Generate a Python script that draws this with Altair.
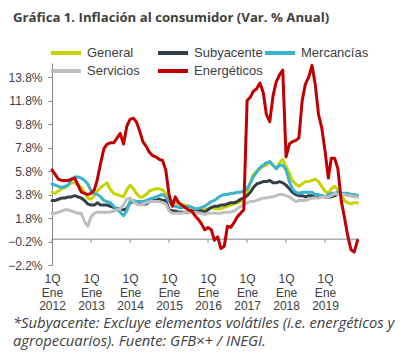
import altair as alt
import pandas as pd

title_text = "Gráfica 1. Inflación al consumidor (Var. % Anual)"
note_text = "*Subyacente: Excluye elementos volátiles (i.e. energéticos y\nagropecuarios). Fuente: GFB×+ /  INEGI."

series_names = ["General", "Subyacente", "Mercancías", "Servicios", "Energéticos"]
series_colors = ["#c5d300", "#333e48", "#3ab3cc", "#bfbfbf", "#c00000"]

year_labels = [2012, 2013, 2014, 2015, 2016, 2017, 2018, 2019]
y_ticks = [-2.2, -0.2, 1.8, 3.8, 5.8, 7.8, 9.8, 11.8, 13.8]

# monthly values, Jan 2012 .. Nov 2019
general = [
    4.0, 3.9, 4.1, 4.3, 4.4, 4.6, 4.8, 4.8, 4.6, 4.4,
    4.0, 3.5, 3.4, 3.7, 4.1, 4.4, 4.6, 4.8, 4.2, 3.9,
    3.8, 3.7, 3.6, 4.2, 4.6, 4.3, 3.9, 3.6, 3.6, 3.8,
    4.1, 4.2, 4.3, 4.3, 4.2, 3.9, 3.4, 3.2, 3.1, 3.0,
    2.9, 2.9, 2.8, 2.7, 2.6, 2.5, 2.5, 2.5, 2.6, 2.7,
    2.6, 2.6, 2.6, 2.7, 2.8, 2.9, 3.0, 3.1, 3.2, 3.3,
    4.0, 4.8, 5.5, 5.8, 6.0, 6.2, 6.3, 6.6, 6.3, 6.0,
    6.5, 6.8, 6.2, 5.6, 5.0, 4.7, 4.5, 4.7, 4.9, 4.9,
    5.0, 5.1, 4.9, 4.5, 4.1, 3.9, 4.3, 4.5, 4.2, 3.8,
    3.3, 3.1, 3.0, 3.1, 3.1,
]
subyacente = [
    3.3, 3.3, 3.4, 3.5, 3.5, 3.6, 3.6, 3.7, 3.6, 3.5,
    3.3, 3.0, 2.9, 2.9, 3.1, 2.9, 2.9, 2.9, 2.8, 2.7,
    2.6, 2.6, 2.5, 2.6, 3.1, 3.2, 3.1, 3.1, 3.0, 3.0,
    3.2, 3.3, 3.3, 3.4, 3.3, 3.3, 2.5, 2.4, 2.4, 2.3,
    2.3, 2.3, 2.3, 2.4, 2.4, 2.5, 2.4, 2.3, 2.5, 2.7,
    2.8, 2.8, 2.9, 2.9, 3.0, 3.1, 3.1, 3.2, 3.4, 3.5,
    3.7, 4.0, 4.4, 4.7, 4.8, 4.9, 4.9, 5.0, 4.8, 4.8,
    4.9, 4.8, 4.6, 4.3, 4.0, 3.8, 3.7, 3.7, 3.6, 3.7,
    3.7, 3.7, 3.7, 3.7, 3.6, 3.6, 3.6, 3.7, 3.8, 3.8,
    3.8, 3.8, 3.7, 3.7, 3.7,
]
mercancias = [
    4.7, 4.6, 4.5, 4.4, 4.5, 4.6, 5.1, 5.3, 5.3, 5.2,
    5.0, 4.7, 4.1, 3.9, 3.8, 3.6, 3.3, 3.2, 3.1, 2.8,
    2.5, 2.3, 2.0, 2.4, 3.2, 3.3, 3.2, 3.2, 3.2, 3.3,
    3.4, 3.5, 3.6, 3.7, 3.8, 3.6, 3.2, 2.9, 2.8, 2.7,
    2.7, 2.7, 2.8, 2.7, 2.6, 2.6, 2.7, 2.8, 3.0, 3.2,
    3.3, 3.5, 3.7, 3.8, 3.8, 3.9, 3.9, 4.0, 4.0, 4.1,
    4.3, 4.8, 5.3, 5.7, 6.1, 6.3, 6.5, 6.6, 6.3, 6.0,
    6.3, 6.3, 5.9, 4.9, 4.3, 4.0, 3.9, 4.0, 4.0, 4.0,
    4.0, 3.8, 3.8, 3.7, 3.6, 3.8, 3.9, 3.9, 4.0, 3.9,
    3.9, 3.9, 3.8, 3.8, 3.7,
]
servicios = [
    2.2, 2.2, 2.3, 2.4, 2.5, 2.5, 2.4, 2.3, 2.2, 2.2,
    1.5, 1.1, 1.9, 2.2, 2.3, 2.3, 2.3, 2.3, 2.3, 2.4,
    2.5, 2.6, 2.9, 3.4, 3.5, 3.2, 3.0, 2.9, 3.0, 3.1,
    3.2, 3.2, 3.2, 3.2, 3.1, 3.0, 2.4, 2.2, 2.2, 2.2,
    2.2, 2.3, 2.3, 2.3, 2.3, 2.2, 2.2, 2.1, 2.2, 2.2,
    2.2, 2.2, 2.2, 2.3, 2.3, 2.3, 2.4, 2.6, 2.8, 2.9,
    3.1, 3.2, 3.2, 3.3, 3.4, 3.5, 3.5, 3.6, 3.6, 3.7,
    3.8, 3.8, 3.7, 3.6, 3.4, 3.2, 3.3, 3.3, 3.3, 3.4,
    3.5, 3.5, 3.5, 3.6, 3.6, 3.6, 3.7, 3.9, 3.8, 3.8,
    3.8, 3.7, 3.7, 3.6, 3.6,
]
energeticos = [
    5.9, 5.5, 5.1, 5.0, 5.0, 5.0, 5.1, 5.2, 4.6, 4.0,
    3.9, 3.8, 3.9, 4.2, 5.1, 6.5, 7.7, 8.1, 8.2, 8.2,
    8.6, 9.0, 8.1, 9.6, 10.2, 10.3, 10.0, 9.2, 8.3, 7.9,
    7.4, 7.1, 7.0, 6.8, 6.7, 5.9, 3.8, 2.8, 3.6, 3.1,
    2.9, 2.7, 2.5, 2.4, 2.0, 1.7, 1.3, 0.8, 1.0, 0.8,
    -0.1, 0.2, -0.8, -0.6, 1.1, 1.0, 1.4, 1.9, 2.2, 2.5,
    11.8, 12.1, 12.6, 12.8, 13.3, 12.5, 10.6, 10.0, 12.2, 13.4,
    14.0, 14.4, 7.0, 8.1, 8.3, 8.4, 8.6, 11.8, 13.2, 13.8,
    14.8, 13.2, 10.6, 9.5, 7.5, 5.2, 6.9, 6.9, 6.0, 3.3,
    1.9, 0.3, -0.9, -1.1, -0.1,
]

dates = pd.date_range("2012-01-01", periods=len(general), freq="MS")
rows = []
for name, vals in zip(series_names, [general, subyacente, mercancias, servicios, energeticos]):
    for d, v in zip(dates, vals):
        rows.append({"fecha": d, "serie": name, "valor": v})
df = pd.DataFrame(rows)

year_dates = pd.DataFrame({"fecha": [pd.Timestamp(f"{y}-01-01") for y in year_labels]})

AXIS_GRAY = "#868686"
TEXT_GRAY = "#404040"

x_scale = alt.Scale(domain=[alt.DateTime(year=2012, month=1, date=1),
                            alt.DateTime(year=2019, month=11, date=15)])
y_scale = alt.Scale(domain=[-2.2, 15.0], nice=False, zero=False)

x_axis = alt.Axis(values=[alt.DateTime(year=y, month=1, date=1) for y in year_labels],
                  labelExpr="['1Q', 'Ene', timeFormat(datum.value, '%Y')]",
                  title=None, domain=False, ticks=False, tickSize=0, grid=False,
                  labelPadding=8.5, labelFontSize=12, labelLineHeight=13.5,
                  labelBaseline="top", labelColor=TEXT_GRAY, labelFont="Liberation Sans",
                  labelFlush=False, labelOverlap=False)
y_axis = alt.Axis(values=y_ticks, labelExpr="format(datum.value, '.1f') + '%'",
                  title=None, grid=False, domainColor=AXIS_GRAY, tickColor=AXIS_GRAY,
                  tickSize=4, labelPadding=6, labelFontSize=12, labelColor=TEXT_GRAY,
                  labelFont="Liberation Sans", labelFlush=False, labelOverlap=False)

zero_rule = alt.Chart(alt.Data(values=[{}])).mark_rule(color=AXIS_GRAY, strokeWidth=1).encode(
    y=alt.datum(0, type="quantitative", scale=y_scale, axis=y_axis)
)
tick_rules = alt.Chart(year_dates).mark_rule(color=AXIS_GRAY, strokeWidth=1).encode(
    x=alt.X("fecha:T", scale=x_scale, axis=x_axis),
    y=alt.datum(0, axis=y_axis),
    y2=alt.datum(-0.3),
)

lines = alt.Chart(df).mark_line(strokeWidth=3, strokeJoin="round", strokeCap="round").encode(
    x=alt.X("fecha:T", scale=x_scale, axis=x_axis),
    y=alt.Y("valor:Q", scale=y_scale, axis=y_axis),
    color=alt.Color("serie:N", scale=alt.Scale(domain=series_names, range=series_colors),
                    legend=alt.Legend(title=None, orient="none", legendX=-3, legendY=-18,
                                      direction="horizontal", clipHeight=16,
                                      columns=3, gridAlign="all", symbolType="stroke",
                                      symbolStrokeWidth=4, symbolSize=900, labelFontSize=13,
                                      labelFont="Liberation Sans", labelColor=TEXT_GRAY,
                                      columnPadding=-5, rowPadding=2, labelOffset=4, padding=0)),
)

title_layer = alt.Chart(alt.Data(values=[{}])).mark_text(
    text=title_text, align="left", baseline="alphabetic", font="Open Sans", fontSize=13.2,
    fontWeight="bold", color=TEXT_GRAY
).encode(x=alt.value(-39), y=alt.value(-41))

note_layer = alt.Chart(alt.Data(values=[{}])).mark_text(
    text=note_text, lineBreak="\n", lineHeight=17.5, align="left", baseline="alphabetic",
    font="Open Sans", fontSize=14.8, fontStyle="italic", color=TEXT_GRAY
).encode(x=alt.value(-39), y=alt.value(265))

chart = alt.layer(zero_rule, tick_rules, lines, title_layer, note_layer).properties(
    width=307, height=202,
    padding={"left": 44, "top": 55, "right": 51, "bottom": 87},
    autosize=alt.AutoSizeParams(type="none"),
).configure_view(stroke=None).configure_axisY(labelOverlap=False)

chart.save("out.html", embed_options={"renderer": "svg", "actions": False})
